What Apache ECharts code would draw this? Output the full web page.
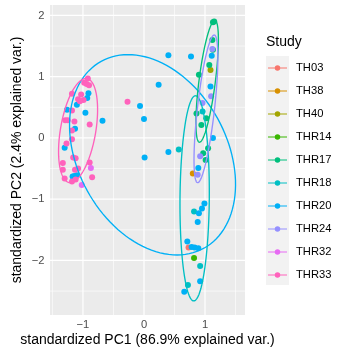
<!DOCTYPE html>
<html>
<head>
<meta charset="utf-8">
<script src="https://cdn.jsdelivr.net/npm/echarts/dist/echarts.min.js"></script>
<style>html,body{margin:0;padding:0;background:#fff}#c{width:337px;height:349px}</style>
</head>
<body>
<div id="c"></div>
<script>
// ---- data ----
const studies = ['TH03','TH38','TH40','THR14','THR17','THR18','THR20','THR24','THR32','THR33'];
const colors = ['#F8766D','#D89000','#A3A500','#39B600','#00BF7D','#00BFC4','#00B0F6','#9590FF','#E76BF3','#FF62BC'];
const xTicks = [-1, 0, 1];
const yTicks = [-2, -1, 0, 1, 2];
const xMinor = [-1.5, -0.5, 0.5, 1.5];
const yMinor = [-2.5, -1.5, -0.5, 0.5, 1.5];

const TH03 = [[0.73,-1.79]];
const TH38 = [[0.80,-0.58]];
const TH40 = [[1.09,1.11]];
const THR14 = [[0.82,-1.96]];
const THR17 = [[1.13,1.89],[1.15,1.90],[1.13,1.44],[1.07,1.19],[0.90,1.03],[0.86,0.40],[1.02,0.32],[0.94,0.21],[1.05,-0.17],[0.97,-0.25],[1.01,-0.36],[1.12,1.60]];
const THR18 = [[0.57,-0.19],[0.82,-1.20],[0.92,-2.09],[0.72,-2.40],[0.96,0.43]];
const THR20 = [[-0.91,0.73],[-0.93,0.65],[-1.10,0.54],[-1.26,0.46],[-0.96,0.41],[-0.68,0.28],[-1.13,0.15],[-1.30,-0.16],[-1.17,-0.63],[-1.10,-0.61],[-1.14,-0.62],
  [-0.065,0.52],[0.00,0.31],[0.24,0.87],[0.40,1.35],[0.77,1.33],[0.01,-0.32],[0.40,-0.23],
  [1.11,1.34],[1.09,0.84],[1.13,0.00],[0.89,-0.49],[0.99,-1.07],[0.95,-1.15],[0.90,-1.23],[0.88,-1.37],[0.71,-1.69],[0.78,-1.78],[0.83,-1.79],[0.89,-1.80],[0.92,-2.34],[0.66,-2.51]];
const THR24 = [[1.10,0.68],[0.96,0.57],[0.88,-0.60],[1.12,1.45],[0.92,-0.30]];
const THR32 = [[-0.87,-0.49],[-1.02,-0.77]];
const THR33 = [[-0.92,0.97],[-0.98,0.90],[-0.94,0.88],[-0.90,0.86],[-1.18,0.72],[-1.03,0.71],[-1.08,0.63],[-0.99,0.62],[-1.05,0.60],[-1.18,0.45],[-1.29,0.29],[-1.25,0.29],[-1.14,0.27],[-0.89,0.22],[-1.18,0.12],[-1.27,-0.09],[-1.18,-0.02],[-1.16,-0.32],[-1.12,-0.33],[-1.33,-0.41],[-1.33,-0.52],[-1.13,-0.52],[-0.89,-0.40],[-1.08,-0.50],[-1.30,-0.66],[-1.18,-0.71],[-1.12,-0.68],[-0.85,-0.64],[-0.27,0.59]];
const pointSets = [TH03,TH38,TH40,THR14,THR17,THR18,THR20,THR24,THR32,THR33];

// ellipse parameters: study, centre x, centre y, semi-major, semi-minor, angle (deg)
const ellipseStudy = ['THR20','THR33','THR18','THR17','THR24'];
const ellipseCx = [0.14, -1.08, 0.83, 1.035, 1.015];
const ellipseCy = [-0.275, 0.12, -0.985, 0.925, 0.475];
const ellipseA = [1.742, 0.861, 1.675, 1.003, 1.213];
const ellipseB = [1.220, 0.289, 0.240, 0.134, 0.140];
const ellipseAng = [-61.1, 80.3, 89.5, 82.7, 83.5];

// ---- chart ----
const FONT = 'Liberation Sans, Arial, Helvetica, sans-serif';
const fmt = v => (v < 0 ? '\u2212' + Math.abs(v) : String(v));
// legend key: horizontal line with a dot on it
const KEY_ICON = 'path://M0,2.95L19,2.95L19,4.05L0,4.05Z M6.75,3.5a2.75,2.75 0 1,1 5.5,0a2.75,2.75 0 1,1 -5.5,0Z';
const chart = echarts.init(document.getElementById('c'));

const series = [];
// panel background
series.push({
  name: 'panel', type: 'custom', z: 1, data: [[0, 0]],
  renderItem: function (params, api) {
    const cs = params.coordSys;
    return {type: 'rect', shape: {x: cs.x, y: cs.y, width: cs.width, height: cs.height}, style: {fill: '#EBEBEB'}};
  }
});
// grid lines through the axes' scales: [value, vertical?, width]
const gridData = []
  .concat(xMinor.map(v => [v, 1, 0.6])).concat(yMinor.map(v => [v, 0, 0.6]))
  .concat(xTicks.map(v => [v, 1, 1.2])).concat(yTicks.map(v => [v, 0, 1.2]));
gridData.forEach((g, i) => series.push({
  name: 'grid' + i, type: 'custom', z: 1.5, data: [g],
  renderItem: function (params, api) {
    const cs = params.coordSys;
    const v = api.value(0), vert = api.value(1), w = api.value(2);
    if (vert) {
      const x = api.coord([v, 0])[0];
      return {type: 'line', shape: {x1: x, y1: cs.y, x2: x, y2: cs.y + cs.height}, style: {stroke: '#FFFFFF', lineWidth: w}};
    }
    const y = api.coord([0, v])[1];
    return {type: 'line', shape: {x1: cs.x, y1: y, x2: cs.x + cs.width, y2: y}, style: {stroke: '#FFFFFF', lineWidth: w}};
  }
}));

studies.forEach((s, i) => series.push({
  name: s, type: 'scatter', data: pointSets[i],
  symbol: 'circle', symbolSize: 6,
  itemStyle: {color: colors[i], borderWidth: 0, opacity: 1},
  emphasis: {disabled: true}, z: 2
}));

series.push({
  name: 'ellipses', type: 'custom', z: 3,
  data: ellipseStudy.map((s, i) => [ellipseCx[i], ellipseCy[i], ellipseA[i], ellipseB[i], ellipseAng[i], studies.indexOf(s)]),
  renderItem: function (params, api) {
    const cx = api.value(0), cy = api.value(1), a = api.value(2), b = api.value(3);
    const th = api.value(4) * Math.PI / 180;
    const col = colors[api.value(5)];
    const pts = [];
    for (let k = 0; k <= 120; k++) {
      const t = 2 * Math.PI * k / 120;
      pts.push(api.coord([
        cx + a * Math.cos(th) * Math.cos(t) - b * Math.sin(th) * Math.sin(t),
        cy + a * Math.sin(th) * Math.cos(t) + b * Math.cos(th) * Math.sin(t)
      ]));
    }
    return {type: 'polyline', shape: {points: pts}, style: {fill: 'none', stroke: col, lineWidth: 1.35}};
  }
});

const axisCommon = {
  type: 'value',
  axisLine: {show: false},
  axisTick: {show: true, length: 3.5, lineStyle: {color: '#333333', width: 1.1}},
  splitLine: {show: false},
  minorTick: {show: false},
  minorSplitLine: {show: false},
  nameLocation: 'middle', nameMoveOverlap: false,
  nameTextStyle: {fontFamily: FONT, fontSize: 14, color: '#000000'}
};

chart.setOption({
  animation: false,
  backgroundColor: '#FFFFFF',
  textStyle: {fontFamily: FONT},
  title: {text: 'Study', left: 266, top: 35, padding: 0,
    textStyle: {fontFamily: FONT, fontSize: 14, fontWeight: 'normal', color: '#000000'}},
  graphic: [{type: 'rect', left: 266, top: 56, z: 0, shape: {width: 23, height: 229}, style: {fill: '#F2F2F2'}}],
  legend: {
    data: studies.map(s => ({name: s, icon: KEY_ICON})),
    orient: 'vertical', left: 268, top: 61, padding: 0,
    itemWidth: 19, itemHeight: 5.5, itemGap: 9,
    itemStyle: {borderWidth: 0},
    textStyle: {fontFamily: FONT, fontSize: 11.2, color: '#000000', lineHeight: 14, padding: [0, 0, 0, 4]},
    selectedMode: false, z: 5
  },
  grid: {left: 50, right: 92, top: 5, bottom: 34, show: false, containLabel: false, outerBoundsMode: 'none'},
  xAxis: Object.assign({}, axisCommon, {
    min: -1.54, max: 1.655,
    name: 'standardized PC1 (86.9% explained var.)', nameGap: 18,
    axisTick: Object.assign({}, axisCommon.axisTick, {customValues: xTicks}),
    axisLabel: {customValues: xTicks, formatter: fmt, color: '#4D4D4D', fontSize: 11.2, margin: 4, fontFamily: FONT}
  }),
  yAxis: Object.assign({}, axisCommon, {
    min: -2.89, max: 2.17,
    name: 'standardized PC2 (2.4% explained var.)', nameGap: 26,
    axisTick: Object.assign({}, axisCommon.axisTick, {customValues: yTicks}),
    axisLabel: {customValues: yTicks, formatter: fmt, color: '#4D4D4D', fontSize: 11.2, margin: 5.5, fontFamily: FONT}
  }),
  series: series
});
</script>
</body>
</html>
